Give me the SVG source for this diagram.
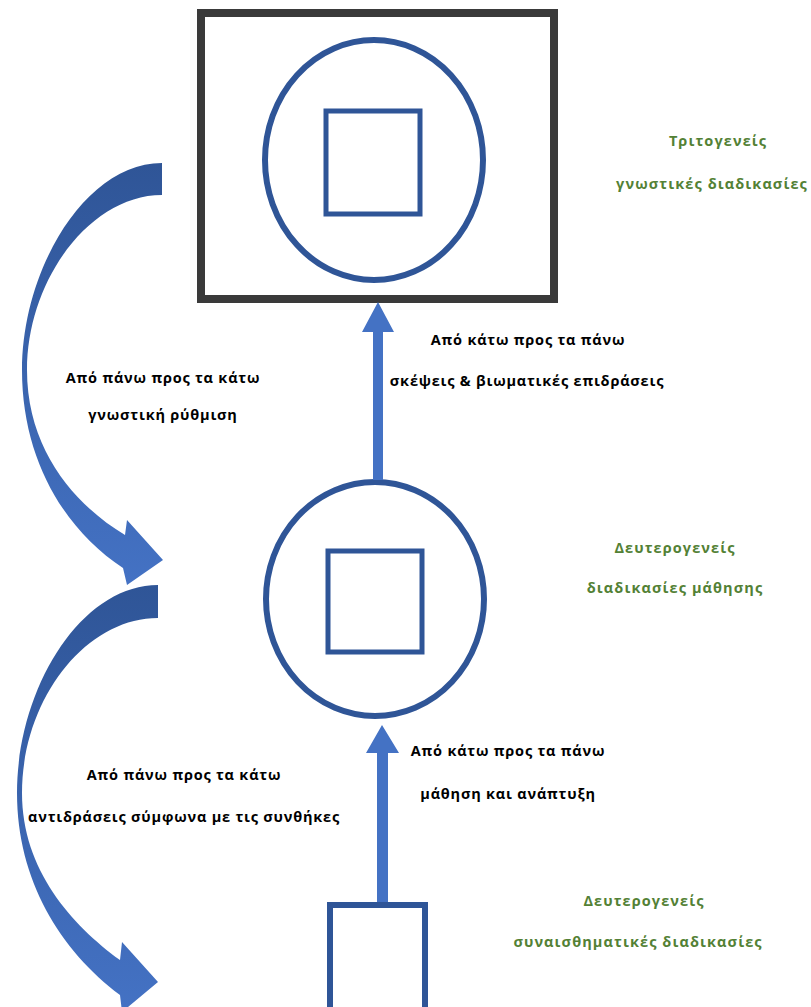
<svg xmlns="http://www.w3.org/2000/svg" width="811" height="1007" viewBox="0 0 811 1007">
<style>
.blue{fill:none;stroke:#2f5597}
.lbl{font-family:"Open Sans","Liberation Sans",sans-serif;font-weight:bold;font-size:14.5px;letter-spacing:0.8px;fill:#000;text-anchor:middle}
.grn{font-family:"Open Sans","Liberation Sans",sans-serif;font-weight:bold;font-size:14.5px;letter-spacing:1.1px;fill:#538135;text-anchor:middle}
.arr{fill:#4472c4}
</style>
<defs>
<linearGradient id="cg" x1="0" y1="0" x2="0" y2="1">
<stop offset="0" stop-color="#2f5597"/>
<stop offset="1" stop-color="#4472c4"/>
</linearGradient>
</defs>
<rect width="811" height="1007" fill="#fff"/>
<g id="tertiary">
<rect x="201" y="13" width="353" height="286" fill="none" stroke="#3a3a3a" stroke-width="8"/>
<ellipse class="blue" cx="374" cy="160" rx="109" ry="120" stroke-width="6"/>
<rect class="blue" x="326" y="111" width="94" height="103" stroke-width="5"/>
</g>
<g id="secondary-learning">
<ellipse class="blue" cx="375" cy="599" rx="109" ry="117" stroke-width="6"/>
<rect class="blue" x="328" y="551" width="94" height="101" stroke-width="5"/>
</g>
<g id="secondary-emotional">
<rect class="blue" x="330" y="905" width="95" height="120" stroke-width="6"/>
</g>
<g id="connectors">
<path class="arr" d="M373,480 L373,332 L362,332 L378,302 L394,332 L383,332 L383,480 Z"/>
<path class="arr" d="M377,902 L377,753 L366,753 L382,725 L399,753 L388,753 L388,902 Z"/>
<path fill="url(#cg)" d="M162,163 C85,163 22,270 22,370 C22,460 65,530 123,568 L127,585 L163,560 L127,520 L125,535 C75,505 27,450 27,370 C27,280 90,195 162,195 Z"/>
<path fill="url(#cg)" d="M158,585 C80,585 17,690 17,793 C17,880 60,950 120,995 L122,1012 L158,982 L122,942 L120,960 C72,925 22,870 22,793 C22,700 85,618 158,618 Z"/>
</g>
<g id="labels">
<text class="lbl" x="528" y="345">Από κάτω προς τα πάνω</text>
<text class="lbl" x="527" y="386">σκέψεις &amp; βιωματικές επιδράσεις</text>
<text class="lbl" x="163" y="383">Από πάνω προς τα κάτω</text>
<text class="lbl" x="163" y="420">γνωστική ρύθμιση</text>
<text class="lbl" x="508" y="756">Από κάτω προς τα πάνω</text>
<text class="lbl" x="508" y="799">μάθηση και ανάπτυξη</text>
<text class="lbl" x="184" y="780">Από πάνω προς τα κάτω</text>
<text class="lbl" x="184" y="822">αντιδράσεις σύμφωνα με τις συνθήκες</text>
<text class="grn" x="718" y="146">Τριτογενείς</text>
<text class="grn" x="712" y="189">γνωστικές διαδικασίες</text>
<text class="grn" x="675" y="553">Δευτερογενείς</text>
<text class="grn" x="675" y="593">διαδικασίες μάθησης</text>
<text class="grn" x="644" y="906">Δευτερογενείς</text>
<text class="grn" x="638" y="947">συναισθηματικές διαδικασίες</text>
</g>
</svg>
